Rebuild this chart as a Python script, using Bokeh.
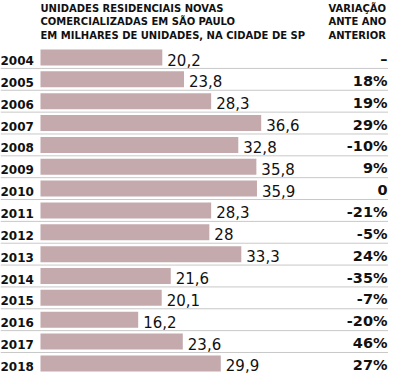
from bokeh.plotting import figure
from bokeh.models import Range1d, ColumnDataSource
from bokeh.core.properties import value
from bokeh.embed import file_html
from bokeh.resources import INLINE

years = ["2004", "2005", "2006", "2007", "2008", "2009", "2010", "2011",
         "2012", "2013", "2014", "2015", "2016", "2017", "2018"]
values = [20.2, 23.8, 28.3, 36.6, 32.8, 35.8, 35.9, 28.3, 28, 33.3,
          21.6, 20.1, 16.2, 23.6, 29.9]
changes = ["–", "18%", "19%", "29%", "-10%", "9%", "0", "-21%", "-5%", "24%",
           "-35%", "-7%", "-20%", "46%", "27%"]
header_left = ["UNIDADES RESIDENCIAIS NOVAS",
               "COMERCIALIZADAS EM SÃO PAULO",
               "EM MILHARES DE UNIDADES, NA CIDADE DE SP"]
header_right = ["VARIAÇÃO", "ANTE ANO", "ANTERIOR"]

W, H = 388, 376
KX = 6.03          # px per unit
X0 = 40            # px of value 0
RY = 21.85         # px per row
Y0 = 57            # px of first row centre


def dx(px):
    return (px - X0) / KX


def dy(px):
    return (px - Y0) / RY


p = figure(width=W, height=H, output_backend="svg", toolbar_location=None,
           x_range=Range1d(dx(0), dx(W)), y_range=Range1d(dy(H), dy(0)),
           min_border=0, x_axis_location=None, y_axis_location=None)
p.grid.visible = False
p.outline_line_color = None
p.background_fill_color = "white"

rows = list(range(len(years)))
labels = [str(v).replace(".", ",") for v in values]
src = ColumnDataSource(dict(y=rows, v=values, year=years, lab=labels, chg=changes,
                            yy=[r + 3 / RY for r in rows],
                            vy=[r + 2 / RY for r in rows],
                            py=[r + 1.5 / RY for r in rows],
                            lx=[v + 5 / KX for v in values]))

# separators
sep_y = [r + 0.5 for r in rows[:-1]]
p.segment(x0=dx(0), x1=dx(W), y0=sep_y, y1=sep_y, line_color="#c8c8c8", line_width=1)

p.hbar(y="y", left=0, right="v", height=16 / RY, source=src,
       fill_color="#c4aaad", line_color=None)

p.text(x=dx(0), y="yy", text="year", source=src, text_font=value("DejaVu Sans"),
       text_font_style="bold", text_font_size="12px", text_color="#111111",
       text_baseline="middle", text_align="left")
p.text(x="lx", y="vy", text="lab", source=src, text_font=value("DejaVu Sans"),
       text_font_size="15px", text_color="#111111",
       text_baseline="middle", text_align="left")
p.text(x=dx(387), y="py", text="chg", source=src, text_font=value("DejaVu Sans"),
       text_font_style="bold", text_font_size="14.5px", text_color="#111111",
       text_baseline="middle", text_align="right")

hy = [dy(7.5), dy(21), dy(34.5)]
p.text(x=[0] * 3, y=hy, text=header_left, text_font=value("DejaVu Sans"),
       text_font_style="bold", text_font_size="10px", text_color="#111111",
       text_baseline="middle", text_align="left")
p.text(x=[dx(328)] * 3, y=hy, text=header_right, text_font=value("DejaVu Sans"),
       text_font_style="bold", text_font_size="10px", text_color="#111111",
       text_baseline="middle", text_align="left")

open("out.html", "w").write(file_html(p, INLINE))
